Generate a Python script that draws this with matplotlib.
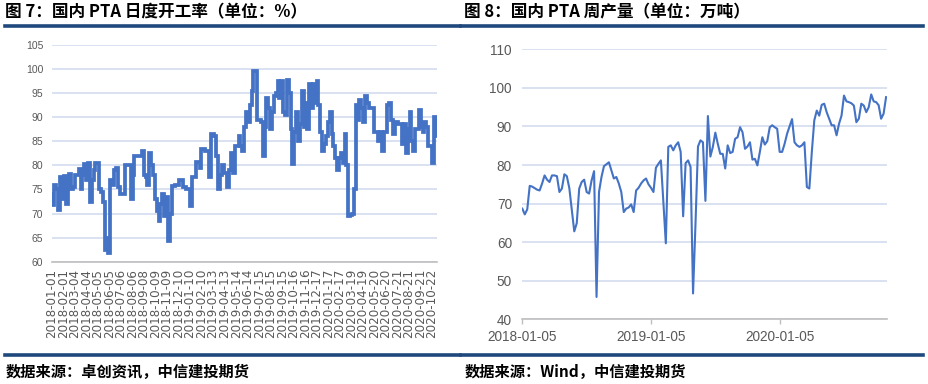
import numpy as np
import pandas as pd
import matplotlib
matplotlib.use("Agg")
import matplotlib.pyplot as plt

plt.rcParams['font.family'] = ['Noto Sans CJK SC', 'DejaVu Sans']

# ---------------- data ----------------
left_title = "图 7：国内 PTA 日度开工率（单位：%）"
right_title = "图 8：国内 PTA 周产量（单位：万吨）"
left_source = "数据来源：卓创资讯，中信建投期货"
right_source = "数据来源：Wind，中信建投期货"

# daily operating rate (%), read every 5 days
rate_step_days = 5
rate_values = [
    74, 71.8, 76, 75, 70.8, 77.5, 73, 77.7, 72, 76,
    78.3, 75, 75.5, 78, 78, 79.3, 75.2, 78, 80.3, 77,
    80.5, 72.3, 77, 79, 80.5, 80.5, 75, 74.5, 72.5, 62.5,
    65, 61.8, 77, 76, 79, 79.5, 75.5, 74, 74, 74,
    80, 80, 80, 73, 78, 82, 82, 82, 82, 83,
    78, 77.5, 76, 82.5, 80, 78, 73, 70.5, 68.4, 72,
    74, 69.5, 73.5, 64.3, 70, 75.8, 75.8, 76, 76, 77,
    77, 75.5, 75.5, 75, 75, 71.5, 77.5, 77.5, 80.8, 80.8,
    79.5, 83.5, 83.5, 83, 83, 77.5, 86.5, 86.5, 86, 82,
    75, 78, 80, 78.5, 78.5, 75.5, 79, 82.5, 78.5, 84,
    84, 86, 84, 83, 88, 91, 89, 92.5, 95.5, 99.5,
    99.5, 89.5, 89.5, 89, 82, 88, 94, 92, 87.5, 91,
    94.5, 95, 97.5, 94, 97.5, 91, 90.5, 97.8, 95, 87.5,
    80.3, 87, 91, 85, 88.5, 95.5, 88, 93, 87.5, 97,
    92, 97, 93, 97.5, 92.5, 87, 83, 84.5, 86, 89,
    91, 86.5, 84, 81.5, 79, 81.5, 82.5, 80.5, 86.5, 80,
    69.5, 69.8, 70, 75, 92.5, 89.5, 93.5, 92, 89, 94.5,
    93, 92, 92, 92, 87, 87, 85, 87, 83, 87,
    87, 92.5, 93, 89.5, 86.5, 89, 89, 88.5, 88.5, 84.5,
    88.5, 82.5, 87.5, 91, 85, 83, 87.5, 87.5, 91.5, 88,
    87, 89, 88, 84, 84, 80.5, 90, 86,
]
rate_tick_labels = [
    "2018-01-01", "2018-02-01", "2018-03-04", "2018-04-04", "2018-05-05",
    "2018-06-05", "2018-07-06", "2018-08-06", "2018-09-08", "2018-10-09",
    "2018-11-09", "2018-12-10", "2019-01-10", "2019-02-10", "2019-03-13",
    "2019-04-13", "2019-05-14", "2019-06-14", "2019-07-15", "2019-08-15",
    "2019-09-15", "2019-10-16", "2019-11-16", "2019-12-17", "2020-01-17",
    "2020-02-17", "2020-03-19", "2020-04-19", "2020-05-20", "2020-06-20",
    "2020-07-21", "2020-08-21", "2020-09-21", "2020-10-22",
]
rate_tick_every = 31
rate_total_days = 1037

# weekly output (10k tons)
weekly_start = "2018-01-05"
weekly_values = [
    68.7, 67.2, 68.5, 74.6, 74.4, 74.0, 73.6, 73.4, 75.2, 77.3,
    76.2, 75.6, 77.3, 77.3, 77.1, 73.0, 73.9, 77.6, 77.1, 74.0,
    68.5, 62.8, 64.9, 73.9, 75.6, 76.2, 73.0, 72.6, 76.0, 78.4,
    45.8, 73.0, 76.9, 79.7, 80.2, 80.7, 78.6, 76.5, 76.9, 75.2,
    73.0, 67.8, 68.7, 69.0, 69.8, 67.8, 73.4, 74.1, 75.2, 76.0,
    76.5, 75.0, 74.1, 73.0, 79.3, 80.3, 81.2, 70.5, 59.7, 84.7,
    85.1, 83.8, 85.1, 85.9, 83.4, 66.7, 80.5, 81.2, 79.5, 46.7,
    65.0, 84.8, 86.4, 85.9, 70.7, 92.7, 82.2, 84.7, 88.4, 85.5,
    82.9, 82.9, 79.1, 85.1, 83.1, 83.4, 86.8, 87.2, 89.8, 88.5,
    84.2, 84.8, 85.9, 81.4, 81.6, 79.9, 83.4, 87.2, 85.3, 86.2,
    89.8, 90.3, 89.8, 89.4, 83.4, 83.4, 85.5, 88.1, 90.0, 91.9,
    85.9, 85.1, 84.7, 85.1, 85.9, 74.3, 73.9, 83.4, 91.6, 94.1,
    92.8, 95.6, 95.9, 93.7, 92.0, 90.3, 90.3, 87.7, 90.7, 92.8,
    98.0, 96.5, 96.3, 96.0, 95.4, 91.1, 92.0, 95.9, 95.4, 93.7,
    95.0, 98.3, 96.5, 96.3, 95.5, 92.0, 93.3, 97.6,
]
weekly_tick_dates = ["2018-01-05", "2019-01-05", "2020-01-05"]

# ---------------- figure ----------------
W, H = 929, 384
fig = plt.figure(figsize=(W / 100, H / 100), dpi=100)
fig.patch.set_facecolor("white")


def fx(x):
    return x / W


def fy(y):
    return 1 - y / H


navy = "#1F497D"
line_blue = "#4472C4"
grid_col = "#D3DCEF"
txt_gray = "#595959"

# titles and rules
fig.text(fx(5), fy(12), left_title, fontsize=12, fontweight="bold",
         ha="left", va="center", color="black")
fig.text(fx(464), fy(12), right_title, fontsize=12, fontweight="bold",
         ha="left", va="center", color="black")
for (x0, x1) in [(5, 460), (461, 923)]:
    fig.add_artist(plt.Line2D([fx(x0), fx(x1)], [fy(25.8), fy(25.8)],
                              color=navy, linewidth=2.6, transform=fig.transFigure))
    fig.add_artist(plt.Line2D([fx(x0), fx(x1)], [fy(354.5), fy(354.5)],
                              color=navy, linewidth=2.6, transform=fig.transFigure))
fig.text(fx(6), fy(372), left_source, fontsize=11, fontweight="bold",
         style="italic", ha="left", va="center", color="black")
fig.text(fx(465), fy(372), right_source, fontsize=11, fontweight="bold",
         style="italic", ha="left", va="center", color="black")

# ---------- left chart ----------
axL = fig.add_axes([fx(51.7), fy(261.7), fx(437.3) - fx(51.7), fy(45) - fy(261.7)])
xL = np.arange(len(rate_values)) * rate_step_days
axL.plot(xL, rate_values, color=line_blue, linewidth=2.7, drawstyle="steps-mid",
         solid_joinstyle="miter")
axL.set_xlim(0, rate_total_days)
axL.set_ylim(60, 105)
axL.set_yticks(np.arange(60, 106, 5))
axL.grid(axis="y", color=grid_col, linewidth=1.2)
axL.set_axisbelow(True)
for s in ["top", "right", "left"]:
    axL.spines[s].set_visible(False)
axL.spines["bottom"].set_color("#BFBFBF")
axL.spines["bottom"].set_linewidth(1.2)
axL.set_xticks(np.arange(len(rate_tick_labels)) * rate_tick_every)
axL.set_xticklabels(rate_tick_labels, rotation=90, fontsize=8.6,
                    family=["DejaVu Sans"], color=txt_gray)
axL.tick_params(axis="x", length=0, pad=5)
axL.tick_params(axis="y", length=0, pad=6, labelsize=7.5, labelcolor=txt_gray)
for lab in axL.get_yticklabels():
    lab.set_family(["Liberation Sans"])

# ---------- right chart ----------
axR = fig.add_axes([fx(522.3), fy(319.3), fx(887.3) - fx(522.3), fy(49.3) - fy(319.3)])
dates = pd.date_range(weekly_start, periods=len(weekly_values), freq="7D")
axR.plot(dates, weekly_values, color=line_blue, linewidth=1.5)
start = pd.Timestamp(weekly_start)
axR.set_xlim(start, start + pd.Timedelta(days=7 * 147.5))
axR.set_ylim(40, 110)
axR.set_yticks(np.arange(40, 111, 10))
axR.grid(axis="y", color=grid_col, linewidth=1.2)
axR.set_axisbelow(True)
for s in ["top", "right", "left"]:
    axR.spines[s].set_visible(False)
axR.spines["bottom"].set_color("#BFBFBF")
axR.spines["bottom"].set_linewidth(1.2)
axR.set_xticks(pd.to_datetime(weekly_tick_dates))
axR.set_xticklabels(weekly_tick_dates, fontsize=9.8, color=txt_gray)
for lab in axR.get_xticklabels():
    lab.set_family(["Liberation Sans"])
axR.tick_params(axis="x", length=3.5, width=1, color="#BFBFBF", pad=4)
axR.tick_params(axis="y", length=0, pad=7.5, labelsize=9.8, labelcolor=txt_gray)
for lab in axR.get_yticklabels():
    lab.set_family(["Liberation Sans"])

fig.savefig("out.png", dpi=100, facecolor="white")
